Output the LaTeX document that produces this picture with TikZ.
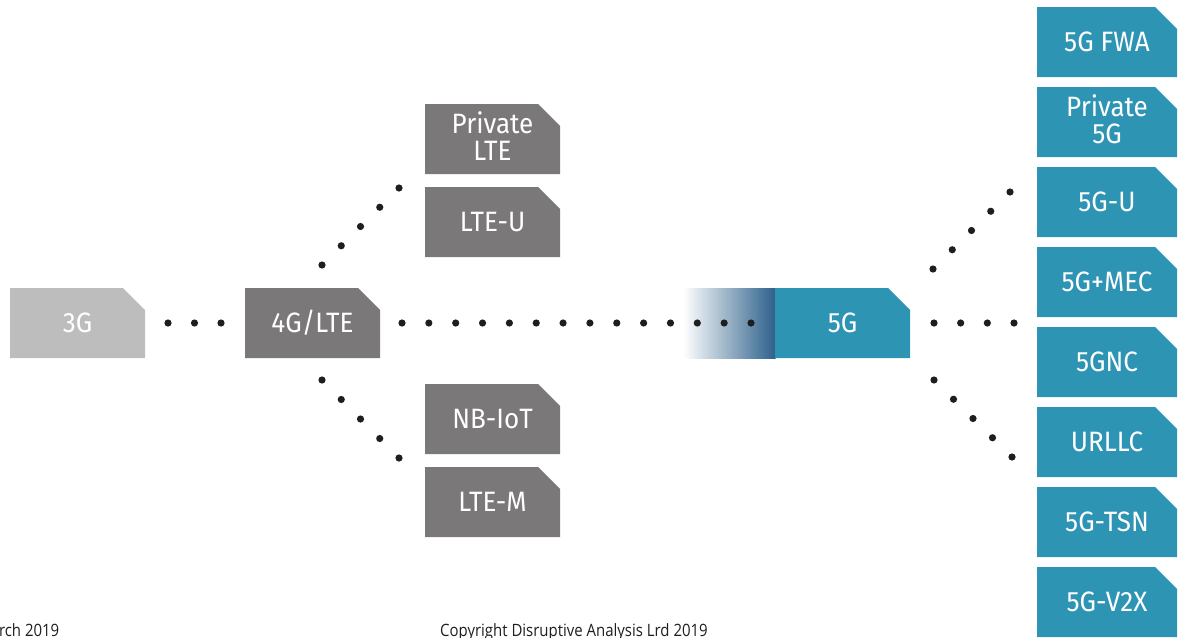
\documentclass[tikz,border=0pt]{standalone}
\usepackage{fontspec}
\setmainfont{Open Sans}
\newfontfamily\boxfont[FakeStretch=0.93]{Fira Sans}
\newfontfamily\footfont[FakeStretch=0.88]{Open Sans}
\usetikzlibrary{calc}
\definecolor{teal5g}{RGB}{46,148,180}
\definecolor{grey4g}{RGB}{122,120,121}
\definecolor{grey3g}{RGB}{189,189,189}
\definecolor{blue5g}{RGB}{44,96,138}
\definecolor{dotc}{RGB}{30,30,30}
\newcommand\cutbox[7]{% name, x, y, width, colour, baseline offset, text
  \fill[#5] (#2,#3) -- ({#2+#4-22},#3) -- ({#2+#4},{#3+22}) -- ({#2+#4},{#3+70}) -- (#2,{#3+70}) -- cycle;
  \node[lbl] (#1) at ({#2+#4/2},{#3+#6}) {#7};}
\newcommand\dotrow[3]{\foreach \i in {0,...,#3}{\fill[dotc] ($(#1)!{\i/#3}!(#2)$) circle (3.6);}}
\begin{document}
\begin{tikzpicture}[x=1pt,y=-1pt,
  lbl/.style={text=white,font=\boxfont\fontsize{28}{27}\selectfont,align=center,inner sep=0pt,anchor=base},
  foot/.style={inner sep=0pt,font=\footfont\fontsize{17}{19}\selectfont,text=dotc}]
\useasboundingbox (0,0) rectangle (1180,637);
\clip (0,0) rectangle (1180,637);
% gradient lead-in to 5G
\shade[left color=white,right color=blue5g] (683,288) rectangle (775.5,358);
% boxes
\cutbox{g3}{10}{288}{135}{grey3g}{44.7}{3G}
\cutbox{g4}{245}{288}{135}{grey4g}{44.7}{4G/LTE}
\cutbox{g5}{775}{288}{135}{teal5g}{44.7}{5G}
\cutbox{plte}{425}{104}{135}{grey4g}{56}{Private\\LTE}
\cutbox{lteu}{425}{187}{135}{grey4g}{44.7}{LTE-U}
\cutbox{nbiot}{425}{384}{135}{grey4g}{44.7}{NB-IoT}
\cutbox{ltem}{425}{467}{135}{grey4g}{44.7}{LTE-M}
\cutbox{fwa}{1037}{7}{140}{teal5g}{44.7}{5G FWA}
\cutbox{p5g}{1037}{87}{140}{teal5g}{56}{Private\\5G}
\cutbox{u5g}{1037}{167}{140}{teal5g}{44.7}{5G-U}
\cutbox{mec}{1037}{247}{140}{teal5g}{44.7}{5G+MEC}
\cutbox{gnc}{1037}{327}{140}{teal5g}{44.7}{5GNC}
\cutbox{urllc}{1037}{407}{140}{teal5g}{44.7}{URLLC}
\cutbox{tsn}{1037}{487}{140}{teal5g}{44.7}{5G-TSN}
\cutbox{vx}{1037}{567}{140}{teal5g}{44.7}{5G-V2X}
% dotted connectors
\coordinate (a1) at (168,323); \coordinate (a2) at (221,323);
\coordinate (h1) at (402,323); \coordinate (h2) at (751,323);
\coordinate (u1) at (322,265); \coordinate (u2) at (399,188);
\coordinate (l1) at (322,380); \coordinate (l2) at (399,458);
\coordinate (ru1) at (933,269); \coordinate (ru2) at (1010,192);
\coordinate (rm1) at (934,323); \coordinate (rm2) at (1014,323);
\coordinate (rl1) at (934,380); \coordinate (rl2) at (1012,457);
\dotrow{a1}{a2}{2}
\dotrow{h1}{h2}{13}
\dotrow{u1}{u2}{4}
\dotrow{l1}{l2}{4}
\dotrow{ru1}{ru2}{4}
\dotrow{rm1}{rm2}{3}
\dotrow{rl1}{rl2}{4}
% footer
\node[foot,anchor=base west] (date) at (-23,636) {March 2019};
\node[foot,anchor=base west] (copy) at (440,636) {Copyright Disruptive Analysis Lrd 2019};
\end{tikzpicture}
\end{document}
